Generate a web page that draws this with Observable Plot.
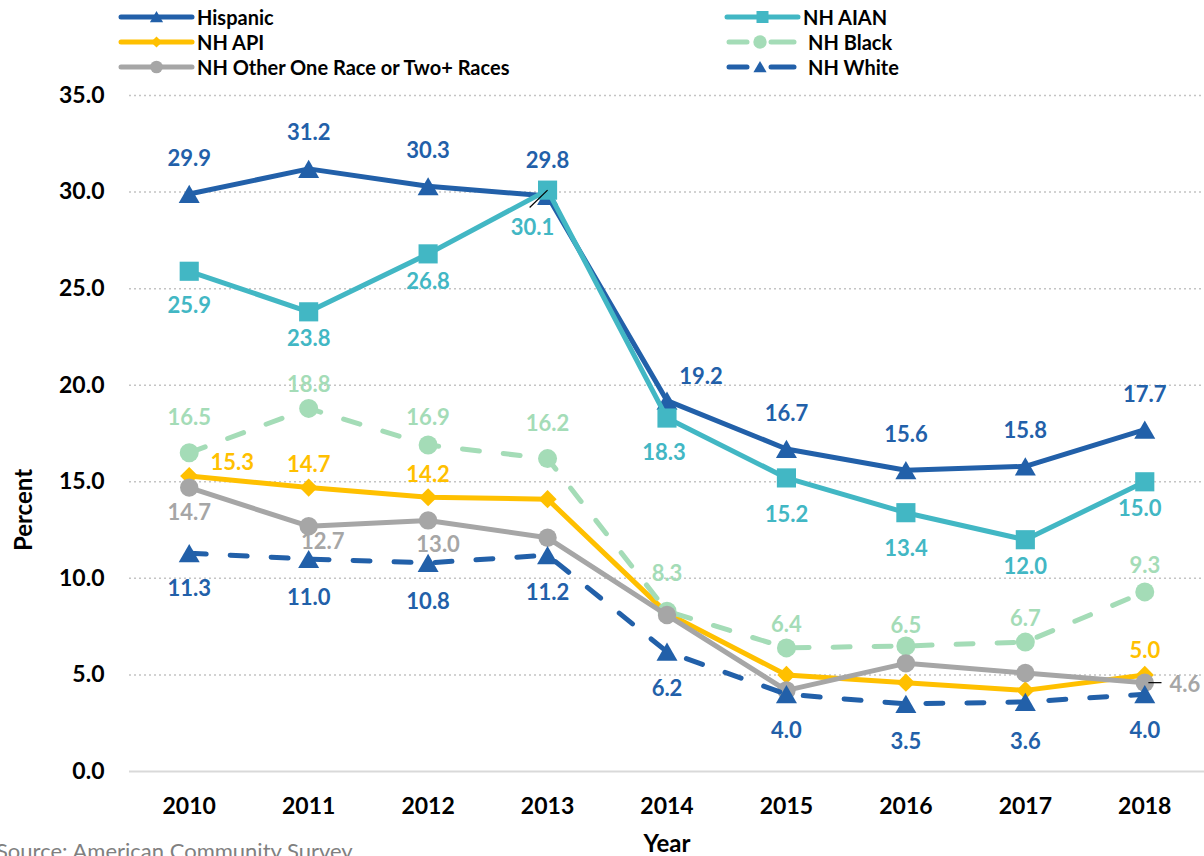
<!DOCTYPE html>
<html><head><meta charset="utf-8">
<script src="https://cdn.jsdelivr.net/npm/d3@7"></script>
<script src="https://cdn.jsdelivr.net/npm/@observablehq/plot@0.6"></script>
<style>
body{margin:0;background:#fff;font-family:Lato,"Open Sans",sans-serif;}
#wrap{position:relative;width:1204px;height:856px;overflow:hidden;background:#fff;}
#chart{position:absolute;left:0;top:0;}
.lg-svg{position:absolute;}
.lg-text{position:absolute;font-weight:bold;font-size:20px;line-height:24px;color:#000;white-space:nowrap;}
#ylab{position:absolute;left:22px;top:510px;transform:translate(-50%,-50%) rotate(-90deg);font-weight:bold;font-size:24px;color:#000;white-space:nowrap;}
#xlab{position:absolute;left:667px;top:843px;transform:translate(-50%,-50%);font-weight:bold;font-size:24px;line-height:24px;color:#000;}
#source{position:absolute;left:-4px;top:840px;font-size:22px;line-height:22px;color:#808080;white-space:nowrap;}
</style></head><body>
<div id="wrap"><div id="chart"></div><div id="legend"></div>
<div id="ylab">Percent</div><div id="xlab">Year</div><div id="source">Source: American Community Survey</div></div>
<script>
// ---------- data ----------
const years = [2010, 2011, 2012, 2013, 2014, 2015, 2016, 2017, 2018];
const hispanic = [29.9, 31.2, 30.3, 29.8, 19.2, 16.7, 15.6, 15.8, 17.7];
const nhAian   = [25.9, 23.8, 26.8, 30.1, 18.3, 15.2, 13.4, 12.0, 15.0];
const nhApi    = [15.3, 14.7, 14.2, 14.1, 8.2, 5.0, 4.6, 4.2, 5.0];
const nhBlack  = [16.5, 18.8, 16.9, 16.2, 8.3, 6.4, 6.5, 6.7, 9.3];
const nhOther  = [14.7, 12.7, 13.0, 12.1, 8.1, 4.2, 5.6, 5.1, 4.6];
const nhWhite  = [11.3, 11.0, 10.8, 11.2, 6.2, 4.0, 3.5, 3.6, 4.0];
const seriesNames = ["Hispanic", "NH AIAN", "NH API", "NH Black", "NH Other One Race or Two+ Races", "NH White"];
const yTicks = [0, 5, 10, 15, 20, 25, 30, 35];
const sourceNote = "Source: American Community Survey";

// ---------- styles / layout ----------
const seriesValues = [hispanic, nhAian, nhApi, nhBlack, nhOther, nhWhite];
const styles = [
  {color: "#2260A9", dash: null, symbol: "triangle", r: 7.8, dy: 3, lsize: 75, lsym: d3.symbolTriangle},
  {color: "#42B7C4", dash: null, symbol: "square", r: 10.8, dy: 0, lsize: 144, lsym: d3.symbolSquare},
  {color: "#FFC000", dash: null, symbol: "diamond2", r: 8.2, dy: 0, lsize: 80, lsym: d3.symbolDiamond2},
  {color: "#A4DCB7", dash: "17,24", symbol: "circle", r: 9.5, dy: 0, lsize: 140, lsym: d3.symbolCircle},
  {color: "#A6A6A6", dash: null, symbol: "circle", r: 9.2, dy: 0, lsize: 125, lsym: d3.symbolCircle},
  {color: "#2260A9", dash: "17,24", symbol: "triangle", r: 7.8, dy: 3, lsize: 75, lsym: d3.symbolTriangle}
];
// label placement per series: shown indices and pixel offsets
const labelLayout = [
  {show: [0,1,2,3,4,5,6,7,8], dx: [0,0,0,0,34,0,0,0,0], dy: [-35,-36,-35,-35,-24,-35,-35,-35,-35]},
  {show: [0,1,2,3,4,5,6,7,8], dx: [0,0,0,-15,-3,0,0,0,-5], dy: [35,27,28,38,35,37,36,27,27]},
  {show: [0,1,2,8], dx: [43,0,0,0,0,0,0,0,0], dy: [-13,-23,-22,0,0,0,0,0,-24]},
  {show: [0,1,2,3,4,5,6,7,8], dx: [0,0,0,0,0,0,0,0,0], dy: [-35,-23,-27,-35,-37,-23,-20,-23,-26]},
  {show: [0,1,2,8], dx: [0,14,10,0,0,0,0,0,40], dy: [25,16,25,0,0,0,0,0,2]},
  {show: [0,1,2,3,4,5,6,7,8], dx: [0,0,0,0,0,0,0,0,0], dy: [36,39,39,38,37,37,38,40,37]}
];

const rows = seriesNames.map((name, s) => years.map((year, i) => ({series: name, year, value: seriesValues[s][i]})));

const marks = [
  Plot.gridY({ticks: yTicks.filter(d => d > 0), stroke: "#c4c4c4", strokeOpacity: 1, strokeDasharray: "2,3", strokeWidth: 1.5}),
  Plot.ruleY([0], {stroke: "#d9d9d9", strokeWidth: 2}),
  Plot.axisY({ticks: yTicks, tickFormat: d => d.toFixed(1), tickSize: 0, tickPadding: 25, label: null}),
  Plot.axisX({ticks: years, tickFormat: d => String(d), tickSize: 0, tickPadding: 26, label: null})
];
rows.forEach((data, s) => {
  const st = styles[s];
  marks.push(Plot.line(data, {x: "year", y: "value", stroke: st.color, strokeWidth: 5,
    strokeDasharray: st.dash || undefined, strokeLinecap: "round", strokeLinejoin: "round"}));
  marks.push(Plot.dot(data, {x: "year", y: "value", symbol: () => st.symbol, r: st.r, fill: st.color, stroke: "none", dy: st.dy}));
});
// leader lines (derived from the labelled points)
const aian2013 = rows[1][3];
const other2018 = rows[4][8];
marks.push(Plot.link([aian2013], {x1: "year", y1: "value", x2: d => d.year - 0.15, y2: d => d.value - 0.9, stroke: "#000", strokeWidth: 1.2}));
marks.push(Plot.link([other2018], {x1: d => d.year + 0.03, y1: "value", x2: d => d.year + 0.14, y2: "value", stroke: "#000", strokeWidth: 1.2}));
// data labels on top
rows.forEach((data, s) => {
  const st = styles[s], lay = labelLayout[s];
  lay.show.forEach(i => {
    marks.push(Plot.text([data[i]], {x: "year", y: "value", text: d => d.value.toFixed(1),
      dx: lay.dx[i], dy: lay.dy[i], fill: st.color, fontSize: 22, fontWeight: "bold"}));
  });
});

const chart = Plot.plot({
  width: 1204, height: 856,
  marginLeft: 129, marginRight: 0, marginTop: 95, marginBottom: 85,
  x: {type: "linear", domain: [2009.5, 2018.5]},
  y: {domain: [0, 35]},
  style: {fontFamily: "Lato, 'Open Sans', sans-serif", fontSize: "23px", fontWeight: "bold", color: "#000", background: "transparent", overflow: "visible"},
  marks
});
document.getElementById("chart").appendChild(chart);

// ---------- legend ----------
const legendPos = [
  {col: 0, row: 0}, {col: 1, row: 0}, {col: 0, row: 1}, {col: 1, row: 1}, {col: 0, row: 2}, {col: 1, row: 2}
];
const colX = [{svg: 112, text: 197}, {svg: 718, text: 803}];
const rowY = [17, 42, 67];
const legend = d3.select("#legend");
seriesNames.forEach((name, s) => {
  const st = styles[s], p = legendPos[s];
  const cy = rowY[p.row];
  const svg = legend.append("svg").attr("class", "lg-svg").attr("width", 90).attr("height", 24)
    .style("left", colX[p.col].svg + "px").style("top", (cy - 12) + "px");
  const g = svg.append("g").attr("stroke", st.color).attr("stroke-width", 5).attr("stroke-linecap", "round");
  if (st.dash) {
    g.append("line").attr("x1", 11).attr("x2", 29).attr("y1", 12).attr("y2", 12);
    g.append("line").attr("x1", 53).attr("x2", 76).attr("y1", 12).attr("y2", 12);
  } else {
    g.append("line").attr("x1", 9).attr("x2", 80).attr("y1", 12).attr("y2", 12);
  }
  svg.append("path").attr("d", d3.symbol(st.lsym, st.lsize)()).attr("fill", st.color)
    .attr("transform", `translate(${st.dash ? 42 : 44.5},${12 + (st.symbol === "triangle" ? 1.5 : 0)})`);
  legend.append("div").attr("class", "lg-text").text(name)
    .style("left", (colX[p.col].text + (p.col === 1 && p.row > 0 ? 5 : 0)) + "px").style("top", (cy - 12) + "px");
});
document.getElementById("source").textContent = sourceNote;
</script>
</body></html>
